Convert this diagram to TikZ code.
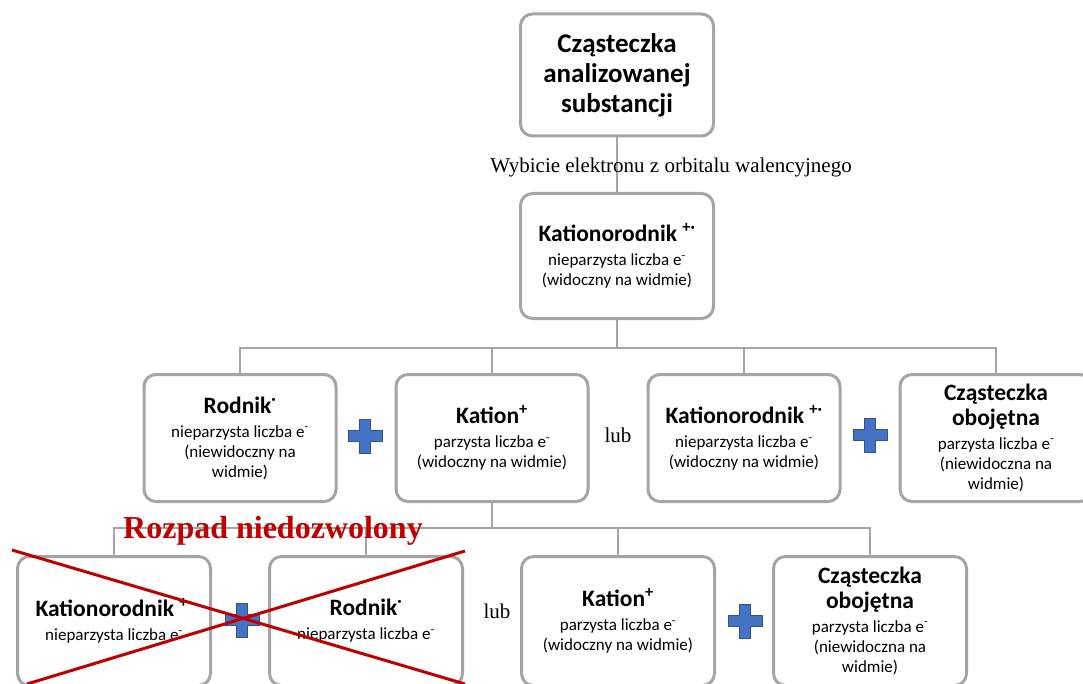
\documentclass[tikz,border=0pt]{standalone}
\usepackage{fontspec}
\setmainfont{Liberation Serif}
\newfontfamily\boxfont{Carlito}
\usepackage{tikz}
\definecolor{boxgray}{HTML}{A5A5A5}
\definecolor{plusfill}{HTML}{4472C4}
\definecolor{plusedge}{HTML}{2F528F}
\definecolor{redx}{HTML}{C00000}
\tikzset{
  box/.style={draw=boxgray, line width=3pt, rounded corners=12pt, fill=white, align=center,
    minimum width=192pt, minimum height=127pt, inner sep=2pt, font=\boxfont\fontsize{17}{20}\selectfont},
  conn/.style={draw=boxgray, line width=2pt},
  note/.style={font=\fontsize{21}{24}\selectfont},
  cross/.style={draw=redx, line width=3pt},
  plussign/.pic={\filldraw[fill=plusfill, draw=plusedge, line width=1pt]
    (-5.5,-17)--(5.5,-17)--(5.5,-5.5)--(17,-5.5)--(17,5.5)--(5.5,5.5)--(5.5,17)
    --(-5.5,17)--(-5.5,5.5)--(-17,5.5)--(-17,-5.5)--(-5.5,-5.5)--cycle;}
}
\newcommand{\hd}[1]{{\fontsize{23.5}{23}\selectfont\bfseries #1}}

\begin{document}
\begin{tikzpicture}[x=1pt, y=-1pt]
\clip (0,0) rectangle (1083,684);
% top
\node[box, minimum height=122pt, minimum width=193pt, font=\boxfont\bfseries\fontsize{27}{30}\selectfont] (mol) at (617,75) {Cząsteczka\\analizowanej\\substancji};
\node[box, minimum height=125pt, minimum width=193pt] (kr) at (617,256) {\hd{Kationorodnik \textsuperscript{+·}}\\[4pt]nieparzysta liczba e\textsuperscript{-}\\(widoczny na widmie)};
\draw[conn] (mol) -- (kr);
\node[note] (ion) at (671,167) {Wybicie elektronu z orbitalu walencyjnego};
% second row
\node[box] (rod) at (240,438) {\hd{Rodnik\textsuperscript{·}}\\[4pt]nieparzysta liczba e\textsuperscript{-}\\(niewidoczny na\\widmie)};
\node[box] (kat) at (492,438) {\hd{Kation\textsuperscript{+}}\\[4pt]parzysta liczba e\textsuperscript{-}\\(widoczny na widmie)};
\node[box] (kr2) at (744,438) {\hd{Kationorodnik \textsuperscript{+·}}\\[4pt]nieparzysta liczba e\textsuperscript{-}\\(widoczny na widmie)};
\node[box] (obo) at (996,438) {\hd{Cząsteczka}\\[3pt]\hd{obojętna}\\[4pt]parzysta liczba e\textsuperscript{-}\\(niewidoczna na\\widmie)};
\draw[conn] (kr.south) -- ++(0,28) coordinate (bus1);
\draw[conn] (rod.north) |- (bus1) -| (obo.north);
\foreach \b in {kat,kr2} \draw[conn] (\b.north) -- (\b.north |- bus1);
\pic at (365,436) {plussign};
\pic at (870,435) {plussign};
\node[note] (or1) at (618,435) {lub};
% third row
\node[box, minimum height=129pt, minimum width=193pt] (kr3) at (114,621) {\hd{Kationorodnik \textsuperscript{+·}}\\[4pt]nieparzysta liczba e\textsuperscript{-}};
\node[box, minimum height=129pt, minimum width=193pt] (rod3) at (366,621) {\hd{Rodnik\textsuperscript{·}}\\[4pt]nieparzysta liczba e\textsuperscript{-}};
\node[box, minimum height=129pt, minimum width=193pt] (kat3) at (618,621) {\hd{Kation\textsuperscript{+}}\\[4pt]parzysta liczba e\textsuperscript{-}\\(widoczny na widmie)};
\node[box, minimum height=129pt, minimum width=193pt] (obo3) at (870,621) {\hd{Cząsteczka}\\[3pt]\hd{obojętna}\\[4pt]parzysta liczba e\textsuperscript{-}\\(niewidoczna na\\widmie)};
\draw[conn] (kat.south) -- ++(0,25) coordinate (bus2);
\draw[conn] (kr3.north) |- (bus2) -| (obo3.north);
\foreach \b in {rod3,kat3} \draw[conn] (\b.north) -- (\b.north |- bus2);
\pic at (242,620) {plussign};
\pic at (745,621) {plussign};
\node[note] (or2) at (497,611) {lub};
% forbidden
\draw[cross] (12,550) -- (465,684);
\draw[cross] (465,551) -- (27,684);
\node[font=\bfseries\fontsize{32}{34}\selectfont, text=redx, anchor=base] (ban) at (273,538) {Rozpad niedozwolony};
\end{tikzpicture}
\end{document}
